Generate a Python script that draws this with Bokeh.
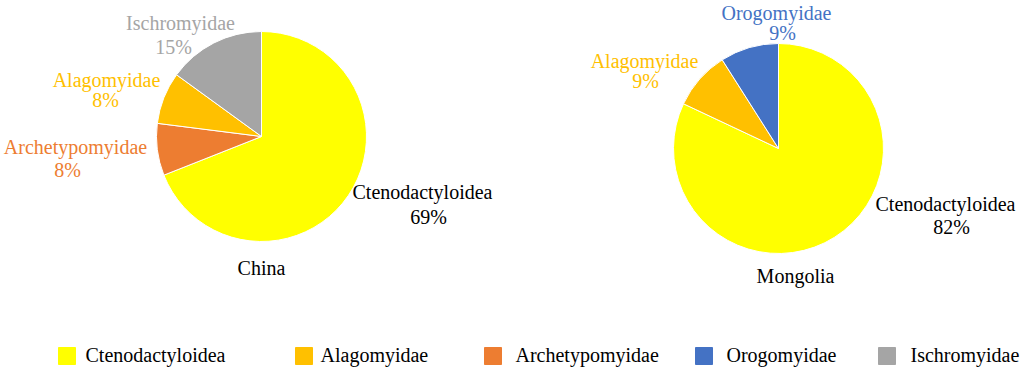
import math
from bokeh.plotting import figure
from bokeh.models import Range1d, ColumnDataSource
from bokeh.core.properties import value
from bokeh.embed import file_html
from bokeh.resources import INLINE

# ---------------- data ----------------
families = ["Ctenodactyloidea", "Alagomyidae", "Archetypomyidae", "Orogomyidae", "Ischromyidae"]
family_colors = ["#FFFF00", "#FFC000", "#ED7D31", "#4472C4", "#A5A5A5"]
label_colors = ["#000000", "#FFC000", "#ED7D31", "#4472C4", "#A5A5A5"]

china_families = ["Ctenodactyloidea", "Archetypomyidae", "Alagomyidae", "Ischromyidae"]
china_pct = [69, 8, 8, 15]

mongolia_families = ["Ctenodactyloidea", "Alagomyidae", "Orogomyidae"]
mongolia_pct = [82, 9, 9]

# ---------------- layout (image pixel coordinates) ----------------
W, H = 1021, 370
china_layout = dict(title="China", cx=261, cy=136, r=105, title_pos=(261, 274),
                    labels=[(422, 198, 428, 223), (75, 153, 67, 176),
                            (106, 86, 105, 106), (180, 29, 173, 53)])
mongolia_layout = dict(title="Mongolia", cx=778, cy=148, r=105, title_pos=(795, 282),
                       labels=[(945, 210, 951, 233), (644, 67, 645, 87),
                               (776, 19, 782, 39)])
legend_square_x = [66.5, 303.5, 492.5, 703.5, 886.5]
legend_text_x = [85, 320, 515, 726, 910]
legend_square_y = 355.5
legend_text_y = 361
BASE_TO_MID = 6.5

SIZE = value("20px")
FONT = value("Liberation Serif")

color_of = dict(zip(families, family_colors))
lcolor_of = dict(zip(families, label_colors))

p = figure(width=W, height=H, x_range=Range1d(0, W), y_range=Range1d(-H, 0),
           output_backend="svg", toolbar_location=None, min_border=0,
           x_axis_type=None, y_axis_type=None)
p.grid.visible = False
p.outline_line_color = None
p.background_fill_color = "white"
p.border_fill_color = "white"


def label(x, y, txt, color, align="center"):
    p.text(x=[x], y=[-(y - BASE_TO_MID)], text=[txt], text_align=align,
           text_baseline="middle", text_font=FONT, text_font_size=SIZE,
           text_color=color)


def pie_labels(names, pcts, lay):
    for n, v, (nx, ny, px, py) in zip(names, pcts, lay["labels"]):
        label(nx, ny, n, lcolor_of[n])
        label(px, py, f"{v}%", lcolor_of[n])
    label(lay["title_pos"][0], lay["title_pos"][1], lay["title"], "#000000")


def pie_wedges(names, pcts, lay):
    total = float(sum(pcts))
    starts, ends = [], []
    cum = 0.0
    for v in pcts:
        starts.append(math.pi / 2 - 2 * math.pi * cum / total)
        cum += v
        ends.append(math.pi / 2 - 2 * math.pi * cum / total)
    src = ColumnDataSource(dict(
        x=[lay["cx"]] * len(names), y=[-lay["cy"]] * len(names),
        start=starts, end=ends, color=[color_of[n] for n in names], name=names))
    p.wedge(x="x", y="y", radius=lay["r"], start_angle="start", end_angle="end",
            direction="clock", fill_color="color", line_color="white", line_width=1,
            source=src)


# texts first (they never overlap the marks)
pie_labels(china_families, china_pct, china_layout)
pie_labels(mongolia_families, mongolia_pct, mongolia_layout)
for lx, name in zip(legend_text_x, families):
    label(lx, legend_text_y, name, "#000000", align="left")

# marks
pie_wedges(china_families, china_pct, china_layout)
pie_wedges(mongolia_families, mongolia_pct, mongolia_layout)
p.rect(x=legend_square_x, y=[-legend_square_y] * len(families), width=17, height=17,
       fill_color=family_colors, line_color=family_colors)

open("out.html", "w").write(file_html(p, INLINE))
